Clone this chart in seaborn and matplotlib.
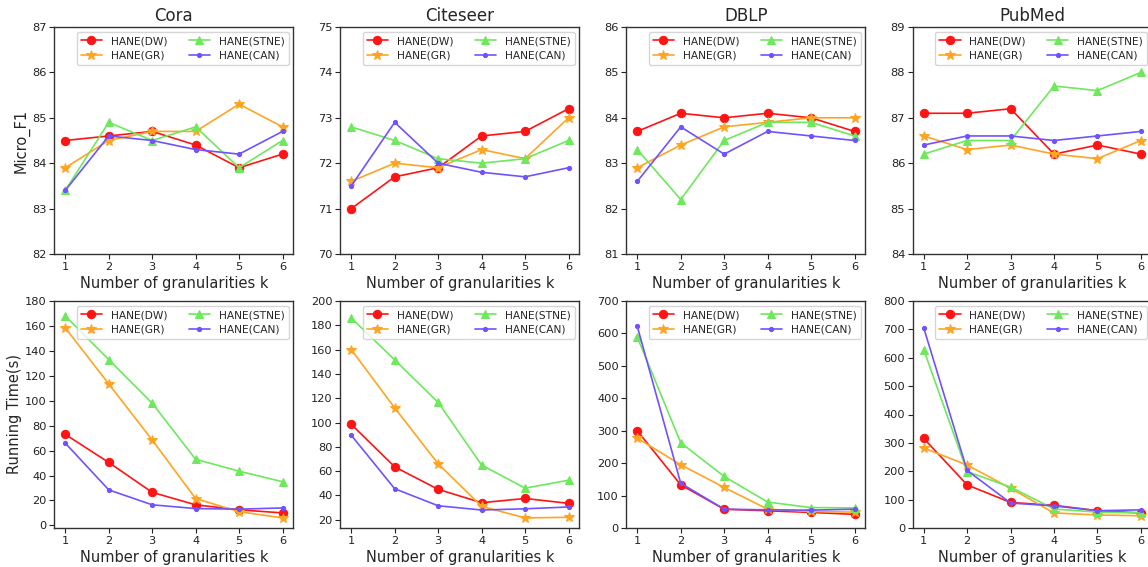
import matplotlib
matplotlib.use("Agg")
import matplotlib.pyplot as plt
from matplotlib.ticker import MultipleLocator
import seaborn as sns
import pandas as pd

k_values = [1, 2, 3, 4, 5, 6]
methods = ["HANE(DW)", "HANE(GR)", "HANE(STNE)", "HANE(CAN)"]
datasets = ["Cora", "Citeseer", "DBLP", "PubMed"]

# Micro_F1
cora_f1_dw = [84.5, 84.6, 84.7, 84.4, 83.9, 84.2]
cora_f1_gr = [83.9, 84.5, 84.7, 84.7, 85.3, 84.8]
cora_f1_stne = [83.4, 84.9, 84.5, 84.8, 83.9, 84.5]
cora_f1_can = [83.4, 84.6, 84.5, 84.3, 84.2, 84.7]

citeseer_f1_dw = [71.0, 71.7, 71.9, 72.6, 72.7, 73.2]
citeseer_f1_gr = [71.6, 72.0, 71.9, 72.3, 72.1, 73.0]
citeseer_f1_stne = [72.8, 72.5, 72.1, 72.0, 72.1, 72.5]
citeseer_f1_can = [71.5, 72.9, 72.0, 71.8, 71.7, 71.9]

dblp_f1_dw = [83.7, 84.1, 84.0, 84.1, 84.0, 83.7]
dblp_f1_gr = [82.9, 83.4, 83.8, 83.9, 84.0, 84.0]
dblp_f1_stne = [83.3, 82.2, 83.5, 83.9, 83.9, 83.6]
dblp_f1_can = [82.6, 83.8, 83.2, 83.7, 83.6, 83.5]

pubmed_f1_dw = [87.1, 87.1, 87.2, 86.2, 86.4, 86.2]
pubmed_f1_gr = [86.6, 86.3, 86.4, 86.2, 86.1, 86.5]
pubmed_f1_stne = [86.2, 86.5, 86.5, 87.7, 87.6, 88.0]
pubmed_f1_can = [86.4, 86.6, 86.6, 86.5, 86.6, 86.7]

# Running time (s)
cora_t_dw = [73, 50.5, 26.5, 16.5, 12.5, 10]
cora_t_gr = [158.5, 113.5, 68.5, 21.5, 11, 6]
cora_t_stne = [168, 133, 98, 53, 43.5, 35]
cora_t_can = [66, 28.5, 16.5, 13.5, 13, 14]

citeseer_t_dw = [98.5, 63.5, 45, 34, 37.5, 33.5]
citeseer_t_gr = [160, 112, 66, 31, 21.5, 22]
citeseer_t_stne = [186, 151.5, 116.5, 65, 46, 52.5]
citeseer_t_can = [89.5, 45.5, 31.5, 28, 29, 30.5]

dblp_t_dw = [300, 133, 58, 53, 48, 42]
dblp_t_gr = [277, 195, 125, 58, 51, 49]
dblp_t_stne = [589, 263, 159, 80, 63, 62]
dblp_t_can = [622, 138, 58, 56, 55, 58]

pubmed_t_dw = [316, 152, 90, 80, 61, 53]
pubmed_t_gr = [282, 222, 140, 53, 46, 43]
pubmed_t_stne = [629, 199, 144, 67, 56, 53]
pubmed_t_can = [706, 203, 88, 78, 61, 64]

f1_ylims = [(82, 87), (70, 75), (81, 86), (84, 89)]
t_ylims = [(-2.1, 180), (13.2, 200), (0, 700), (0, 800)]
f1_tick_step = [1, 1, 1, 1]
t_tick_step = [20, 20, 100, 100]

f1_data = {
    "Cora": [cora_f1_dw, cora_f1_gr, cora_f1_stne, cora_f1_can],
    "Citeseer": [citeseer_f1_dw, citeseer_f1_gr, citeseer_f1_stne, citeseer_f1_can],
    "DBLP": [dblp_f1_dw, dblp_f1_gr, dblp_f1_stne, dblp_f1_can],
    "PubMed": [pubmed_f1_dw, pubmed_f1_gr, pubmed_f1_stne, pubmed_f1_can],
}
t_data = {
    "Cora": [cora_t_dw, cora_t_gr, cora_t_stne, cora_t_can],
    "Citeseer": [citeseer_t_dw, citeseer_t_gr, citeseer_t_stne, citeseer_t_can],
    "DBLP": [dblp_t_dw, dblp_t_gr, dblp_t_stne, dblp_t_can],
    "PubMed": [pubmed_t_dw, pubmed_t_gr, pubmed_t_stne, pubmed_t_can],
}

colors = {"HANE(DW)": "#ff1414", "HANE(GR)": "#ffa424",
          "HANE(STNE)": "#6ee85c", "HANE(CAN)": "#7152ff"}
markers = {"HANE(DW)": "o", "HANE(GR)": "*", "HANE(STNE)": "^", "HANE(CAN)": "."}
msizes = {"HANE(DW)": 6, "HANE(GR)": 7, "HANE(STNE)": 6, "HANE(CAN)": 6}

sns.set_style("ticks")
plt.rcParams["font.family"] = ["DejaVu Sans"]

W, H = 1148, 567
fig = plt.figure(figsize=(W / 100, H / 100), dpi=100)

ax_w_px, ax_h_px = 239.0, 227.0
lefts = [54.4, 340.4, 626.4, 912.8]
tops = [27.0, 301.0]


def make_df(series_list):
    rows = []
    for m, vals in zip(methods, series_list):
        for k, v in zip(k_values, vals):
            rows.append({"k": k, "value": v, "method": m})
    return pd.DataFrame(rows)


for r, (data, ylims, steps) in enumerate([(f1_data, f1_ylims, f1_tick_step),
                                          (t_data, t_ylims, t_tick_step)]):
    for c, ds in enumerate(datasets):
        rect = [lefts[c] / W, 1 - (tops[r] + ax_h_px) / H, ax_w_px / W, ax_h_px / H]
        ax = fig.add_axes(rect)
        df = make_df(data[ds])
        for m in methods:
            sub = df[df["method"] == m]
            sns.lineplot(data=sub, x="k", y="value", ax=ax, color=colors[m],
                         marker=markers[m], markersize=msizes[m],
                         markeredgecolor=colors[m], linewidth=1.2, label=m)
        ax.yaxis.set_major_locator(MultipleLocator(steps[c]))
        ax.set_ylim(*ylims[c])
        ax.set_xlim(0.75, 6.25)
        ax.set_xticks(k_values)
        ax.tick_params(labelsize=8.2, length=3.5, width=0.8, colors="#222222",
                       pad=2)
        for sp in ax.spines.values():
            sp.set_color("#333333")
            sp.set_linewidth(1.0)
        ax.set_xlabel("Number of granularities k", fontsize=10.5, labelpad=3)
        if c == 0:
            ax.set_ylabel("Micro_F1" if r == 0 else "Running Time(s)",
                          fontsize=10.5, labelpad=2)
        else:
            ax.set_ylabel("")
        if r == 0:
            ax.set_title(ds, fontsize=12, pad=4)
        ax.legend(loc="upper right", ncol=2, fontsize=7.7, framealpha=0.8,
                  edgecolor="#cccccc", fancybox=True, borderpad=0.4,
                  columnspacing=2.0, handlelength=2.0, labelspacing=0.45,
                  borderaxespad=0.45)

fig.savefig("out.png", dpi=100)
